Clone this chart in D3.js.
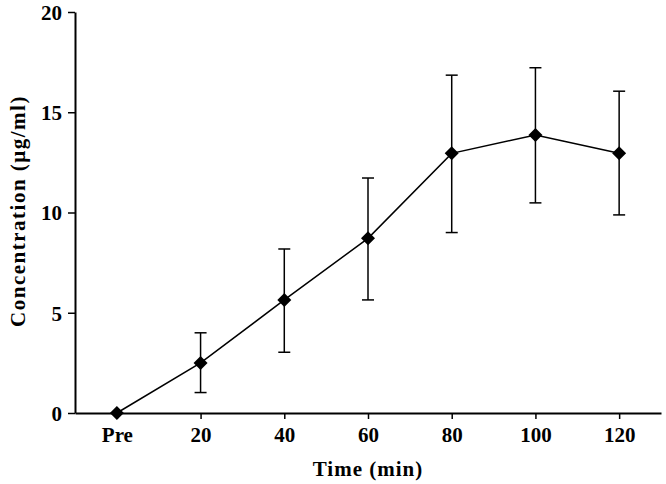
<!DOCTYPE html>
<html><head><meta charset="utf-8">
<script src="https://cdn.jsdelivr.net/npm/d3@7"></script>
<style>body{margin:0;background:#fff}svg text{font-family:"Liberation Serif","Times New Roman",serif;font-weight:bold;fill:#000}</style>
</head><body><svg width="666" height="484"></svg>
<script>
const categories = ["Pre","20","40","60","80","100","120"];
const means = [0, 2.5, 5.64, 8.71, 12.95, 13.87, 12.95];
const upper = [0, 4.0, 8.18, 11.72, 16.85, 17.22, 16.05];
const lower = [0, 1.02, 3.03, 5.64, 9.0, 10.48, 9.88];
const yTicks = [0,5,10,15,20];

const svg = d3.select("svg");
const x = d3.scalePoint().domain(categories).range([75,661]).padding(0.5);
const y = d3.scaleLinear().domain([0,20]).range([413,12]);

const xAxis = svg.append("g").attr("transform","translate(0,413)")
  .call(d3.axisBottom(x).tickSize(6).tickPadding(5).tickSizeOuter(0));
const yAxis = svg.append("g").attr("transform","translate(75,0)")
  .call(d3.axisLeft(y).tickValues(yTicks).tickSize(7).tickPadding(6).tickSizeOuter(0));
[xAxis,yAxis].forEach(g=>{
  g.select(".domain").attr("stroke","#000").attr("stroke-width",2);
  g.selectAll(".tick line").attr("stroke","#000").attr("stroke-width",1.5);
  g.selectAll(".tick text").style("font-size","21px").style("font-family","Liberation Serif").style("font-weight","bold");
});
xAxis.selectAll(".tick text").attr("dy","0.85em");
yAxis.selectAll(".tick text").attr("dy","0.35em");

const data = categories.map((c,i)=>({c, m:means[i], u:upper[i], l:lower[i]}));
const eb = data.filter(d=>d.u>d.l);
const g = svg.append("g").attr("stroke","#000").attr("stroke-width",1.5);
eb.forEach(d=>{
  const cx = x(d.c);
  g.append("line").attr("x1",cx).attr("x2",cx).attr("y1",y(d.u)).attr("y2",y(d.l));
  g.append("line").attr("x1",cx-6).attr("x2",cx+6).attr("y1",y(d.u)).attr("y2",y(d.u));
  g.append("line").attr("x1",cx-6).attr("x2",cx+6).attr("y1",y(d.l)).attr("y2",y(d.l));
});
svg.append("path").datum(data)
  .attr("fill","none").attr("stroke","#000").attr("stroke-width",1.5)
  .attr("d", d3.line().x(d=>x(d.c)).y(d=>y(d.m)));
svg.selectAll("path.pt").data(data).join("path").attr("class","pt")
  .attr("transform",d=>`translate(${x(d.c)},${y(d.m)})`)
  .attr("d","M0,-7L7,0L0,7L-7,0Z").attr("fill","#000");

svg.append("text").attr("x",368).attr("y",476).attr("text-anchor","middle")
  .style("font-size","21px").style("letter-spacing","1px").text("Time (min)");
svg.append("text").attr("transform","translate(25,211) rotate(-90)").attr("text-anchor","middle")
  .style("font-size","21px").style("letter-spacing","1.5px").text("Concentration (μg/ml)");
</script></body></html>
